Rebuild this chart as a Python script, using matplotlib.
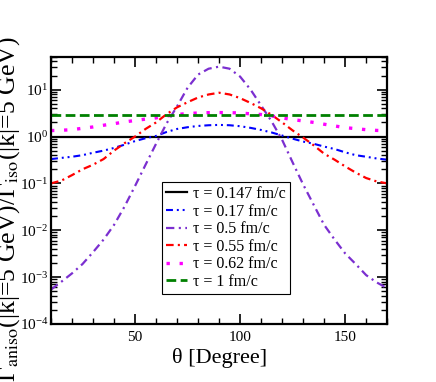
import matplotlib
matplotlib.use('Agg')
import matplotlib.pyplot as plt
from matplotlib.ticker import MultipleLocator, LogLocator, NullFormatter

plt.rcParams['font.family'] = ['Liberation Serif', 'DejaVu Serif']
plt.rcParams['mathtext.fontset'] = 'stix'
plt.rcParams['lines.scale_dashes'] = False

# Data, theta every 5 degrees
theta = [10, 15, 20, 25, 30, 35, 40, 45, 50, 55, 60, 65, 70, 75, 80, 85, 90,
         95, 100, 105, 110, 115, 120, 125, 130, 135, 140, 145, 150, 155, 160, 165, 170]

tau_0147 = [1.0] * 33
tau_017 = [0.33, 0.35, 0.37, 0.40, 0.45, 0.50, 0.57, 0.67, 0.80, 0.92, 1.03, 1.25, 1.45, 1.58, 1.68, 1.74,
           1.77,
           1.74, 1.66, 1.53, 1.38, 1.22, 1.05, 0.90, 0.78, 0.70, 0.61, 0.54, 0.46, 0.40, 0.37, 0.34, 0.32]
tau_05 = [5.4e-4, 8e-4, 1.2e-3, 1.9e-3, 3.4e-3, 6.3e-3, 0.013, 0.032, 0.088, 0.25, 0.7, 1.9, 4.4, 11, 21, 28,
          31,
          28, 19, 10, 4.6, 2.1, 0.85, 0.28, 0.095, 0.035, 0.013, 6.3e-3, 3.2e-3, 1.9e-3, 1.1e-3, 7.7e-4, 5.8e-4]
tau_055 = [0.10, 0.115, 0.15, 0.20, 0.25, 0.33, 0.50, 0.72, 1.0, 1.45, 2.0, 3.0, 4.2, 5.4, 6.8, 7.9,
           8.6,
           7.9, 6.6, 5.2, 4.0, 2.9, 2.0, 1.35, 0.95, 0.65, 0.43, 0.32, 0.23, 0.17, 0.13, 0.11, 0.10]
tau_062 = [1.34, 1.36, 1.40, 1.50, 1.60, 1.74, 1.88, 2.05, 2.20, 2.35, 2.50, 2.75, 2.95, 3.10, 3.18, 3.23,
           3.25,
           3.23, 3.18, 3.05, 2.95, 2.75, 2.50, 2.30, 2.15, 2.00, 1.83, 1.68, 1.55, 1.47, 1.40, 1.35, 1.33]
tau_1 = [2.85] * 33

labels = [u'\u03c4 = 0.147 fm/c', u'\u03c4 = 0.17 fm/c', u'\u03c4 = 0.5 fm/c',
          u'\u03c4 = 0.55 fm/c', u'\u03c4 = 0.62 fm/c', u'\u03c4 = 1 fm/c']

# Plot setup
fig = plt.figure(figsize=(4.36, 3.82), dpi=100)
ax = fig.add_axes([0.117, 0.152, 0.771, 0.699])

ax.plot(theta, tau_0147, c='black', lw=1.6, label=labels[0])
ax.plot(theta, tau_017, c='blue', lw=1.5, dashes=(5, 2.8, 1.4, 2.8, 1.4, 2.8), label=labels[1])
ax.plot(theta, tau_05, c='#7b2fd0', lw=1.6, dashes=(6, 3.2, 1.5, 3.2), label=labels[2])
ax.plot(theta, tau_055, c='red', lw=1.6, dashes=(5.5, 3, 1.5, 3), label=labels[3])
ax.plot(theta, tau_062, c='magenta', lw=2.4, dashes=(2.4, 7), dash_capstyle='butt', label=labels[4])
ax.plot(theta, tau_1, c='green', lw=2.0, dashes=(7, 3.2), label=labels[5])

ax.set_yscale('log')
ax.set_xlim(10, 170)
ax.set_ylim(1e-4, 50)

ax.set_xlabel(u'\u03b8 [Degree]', fontsize=16, labelpad=3)
ax.set_ylabel(u'\u0393$_{\\rm aniso}$(|k|=5 GeV)/\u0393$_{\\rm iso}$(|k|=5 GeV)', fontsize=18.5)
ax.yaxis.set_label_coords(-0.085, 0.43)

# Ticks
ax.xaxis.set_major_locator(MultipleLocator(50))
ax.xaxis.set_minor_locator(MultipleLocator(10))
ax.yaxis.set_major_locator(LogLocator(base=10, numticks=10))
ax.yaxis.set_minor_locator(LogLocator(base=10, subs=range(2, 10), numticks=20))
ax.yaxis.set_minor_formatter(NullFormatter())
ax.tick_params(which='both', direction='in', top=True, right=True, labelsize=11)
ax.tick_params(axis='y', pad=2)
ax.tick_params(axis='x', pad=5)
ax.tick_params(which='major', length=7, width=1.2)
ax.tick_params(which='minor', length=4, width=1.0)
for s in ax.spines.values():
    s.set_linewidth(1.6)

leg = ax.legend(loc='lower left', bbox_to_anchor=(0.33, 0.112), borderaxespad=0,
                fontsize=11.5, handlelength=1.3, handletextpad=0.4, labelspacing=0.1,
                borderpad=0.25, fancybox=False, framealpha=1)
leg.get_frame().set_edgecolor('black')
leg.get_frame().set_linewidth(0.8)

fig.savefig('out.png', dpi=100)
